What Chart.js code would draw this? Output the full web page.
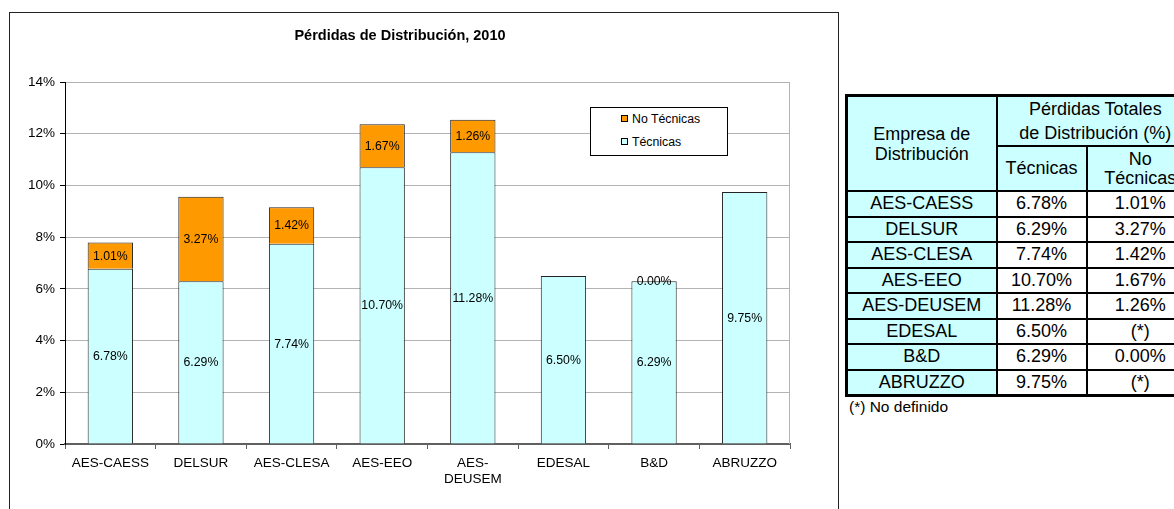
<!DOCTYPE html>
<html>
<head>
<meta charset="utf-8">
<script src="https://cdn.jsdelivr.net/npm/chart.js@4.4.1/dist/chart.umd.min.js"></script>
<style>
  html,body{margin:0;padding:0;background:#fff;}
  body{width:1174px;height:509px;overflow:hidden;position:relative;font-family:"Liberation Sans",Arial,sans-serif;}
  #box{position:absolute;left:9px;top:12px;width:830px;height:520px;border:1px solid #222;box-sizing:border-box;}
  #chart{position:absolute;left:0;top:0;}
  #legend{position:absolute;left:590px;top:107px;width:138px;height:49px;border:1px solid #000;background:#fff;box-sizing:border-box;font-size:12.3px;color:#000;}
  #legend .item{height:23px;line-height:23px;padding-left:30px;white-space:nowrap;}
  #legend .sw{display:inline-block;width:7px;height:7px;border:1px solid #000;box-sizing:border-box;margin-right:4px;vertical-align:middle;position:relative;top:-1px;}
  table{position:absolute;left:845px;top:94px;width:348px;border-collapse:collapse;table-layout:fixed;font-size:18px;color:#000;border:3px solid #000;}
  td,th{border:2px solid #000;text-align:center;vertical-align:middle;padding:0;font-weight:normal;white-space:nowrap;overflow:visible;}
  .c{background:#ccffff;}
  .w{background:#fff;}
  #note{position:absolute;left:849px;top:398px;font-size:15.5px;color:#000;white-space:nowrap;}
</style>
</head>
<body>
<div id="box"><canvas id="chart" width="828" height="496"></canvas></div>
<div id="legend"></div>
<table id="tbl"></table>
<div id="note">(*) No definido</div>
<script>
const companies = ['AES-CAESS','DELSUR','AES-CLESA','AES-EEO','AES-DEUSEM','EDESAL','B&D','ABRUZZO'];
const tecnicas   = [6.78, 6.29, 7.74, 10.70, 11.28, 6.50, 6.29, 9.75];
const noTecnicas = [1.01, 3.27, 1.42, 1.67, 1.26, null, 0.00, null];
const yTicks = [0, 2, 4, 6, 8, 10, 12, 14];
const chartTitle = 'Pérdidas de Distribución, 2010';
const seriesNames = ['Técnicas', 'No Técnicas'];
const seriesColors = ['#ccffff', '#ff9900'];

const FONT = '"Liberation Sans", Arial, sans-serif';

const valueLabels = {
  id: 'valueLabels',
  afterDatasetsDraw(chart) {
    const ctx = chart.ctx;
    ctx.save();
    ctx.font = '12.3px ' + FONT;
    ctx.fillStyle = '#000';
    ctx.textAlign = 'center';
    ctx.textBaseline = 'middle';
    chart.data.datasets.forEach((ds, i) => {
      const meta = chart.getDatasetMeta(i);
      meta.data.forEach((bar, j) => {
        const v = ds.data[j];
        if (v === null || v === undefined) return;
        const p = bar.getProps(['x', 'y', 'base'], true);
        ctx.fillText(v.toFixed(2) + '%', p.x, (p.y + p.base) / 2 + 0.5);
      });
    });
    ctx.restore();
  }
};

const plotFrame = {
  id: 'plotFrame',
  beforeDatasetsDraw(chart) {
    const a = chart.chartArea, ctx = chart.ctx;
    ctx.save();
    ctx.strokeStyle = '#b3b3b3';
    ctx.lineWidth = 1;
    ctx.beginPath();
    ctx.moveTo(a.right - 0.5, a.top);
    ctx.lineTo(a.right - 0.5, a.bottom);
    ctx.stroke();
    ctx.restore();
  }
};

const chart = new Chart(document.getElementById('chart'), {
  type: 'bar',
  data: {
    labels: companies,
    datasets: [
      { label: seriesNames[0], data: tecnicas, backgroundColor: seriesColors[0], borderColor: '#222', borderWidth: 1, stack: 's' },
      { label: seriesNames[1], data: noTecnicas, backgroundColor: seriesColors[1], borderColor: '#222', borderWidth: 1, stack: 's' }
    ]
  },
  options: {
    responsive: false,
    devicePixelRatio: 1,
    animation: false,
    layout: { padding: { left: 0, right: 48, top: 0, bottom: 0 } },
    datasets: { bar: { categoryPercentage: 1, barPercentage: 0.5 } },
    plugins: {
      legend: { display: false },
      tooltip: { enabled: false },
      title: {
        display: true,
        text: chartTitle,
        color: '#000',
        font: { family: FONT, size: 14.5, weight: 'bold', lineHeight: 1.2 },
        padding: { top: 14.5, bottom: 37.1 }
      }
    },
    scales: {
      x: {
        stacked: true,
        offset: true,
        grid: { display: true, drawOnChartArea: false, offset: true, tickLength: 5, color: '#606060', tickColor: '#606060' },
        border: { display: true, color: '#606060', width: 2 },
        ticks: {
          color: '#000',
          font: { family: FONT, size: 13.5 },
          padding: 6,
          maxRotation: 0,
          autoSkip: false,
          callback: function(v, i) {
            const s = companies[i];
            if (s.length > 9 && s.indexOf('-') > 0) {
              const k = s.indexOf('-') + 1;
              return [s.slice(0, k), s.slice(k)];
            }
            return s;
          }
        },
        afterFit: s => { s.height = 65; }
      },
      y: {
        stacked: true,
        min: 0, max: 14,
        afterBuildTicks: s => { s.ticks = yTicks.map(v => ({ value: v })); },
        grid: { color: '#b3b3b3', tickLength: 5, tickColor: '#000' },
        border: { display: true, color: '#000', width: 1 },
        ticks: {
          color: '#000',
          font: { family: FONT, size: 13.5 },
          padding: 5,
          callback: v => v + '%'
        },
        afterFit: s => { s.width = 55; }
      }
    }
  },
  plugins: [valueLabels, plotFrame]
});

// HTML legend built from the chart's datasets (reverse order)
const lg = document.getElementById('legend');
chart.data.datasets.slice().reverse().forEach(ds => {
  const it = document.createElement('div');
  it.className = 'item';
  const sw = document.createElement('span');
  sw.className = 'sw';
  sw.style.background = ds.backgroundColor;
  it.appendChild(sw);
  it.appendChild(document.createTextNode(ds.label));
  lg.appendChild(it);
});

// Table from the same arrays
const tbl = document.getElementById('tbl');
let html = '<colgroup><col style="width:150px"><col style="width:90px"><col style="width:108px"></colgroup>';
html += '<tr style="height:43px"><td class="c" rowspan="2" style="line-height:20px">Empresa de<br>Distribución</td>' +
        '<td class="c" colspan="2" style="line-height:24px">Pérdidas Totales<br>de Distribución (%)</td></tr>';
html += '<tr style="height:45px"><td class="c">' + seriesNames[0] + '</td><td class="c" style="line-height:19px">No<br>Técnicas</td></tr>';
companies.forEach((c, i) => {
  const t = tecnicas[i].toFixed(2) + '%';
  const n = noTecnicas[i] === null ? '(*)' : noTecnicas[i].toFixed(2) + '%';
  html += '<tr style="height:25.5px"><td class="c">' + c.replace('&', '&amp;') + '</td><td class="w">' + t + '</td><td class="w">' + n + '</td></tr>';
});
tbl.innerHTML = html;
</script>
</body>
</html>
